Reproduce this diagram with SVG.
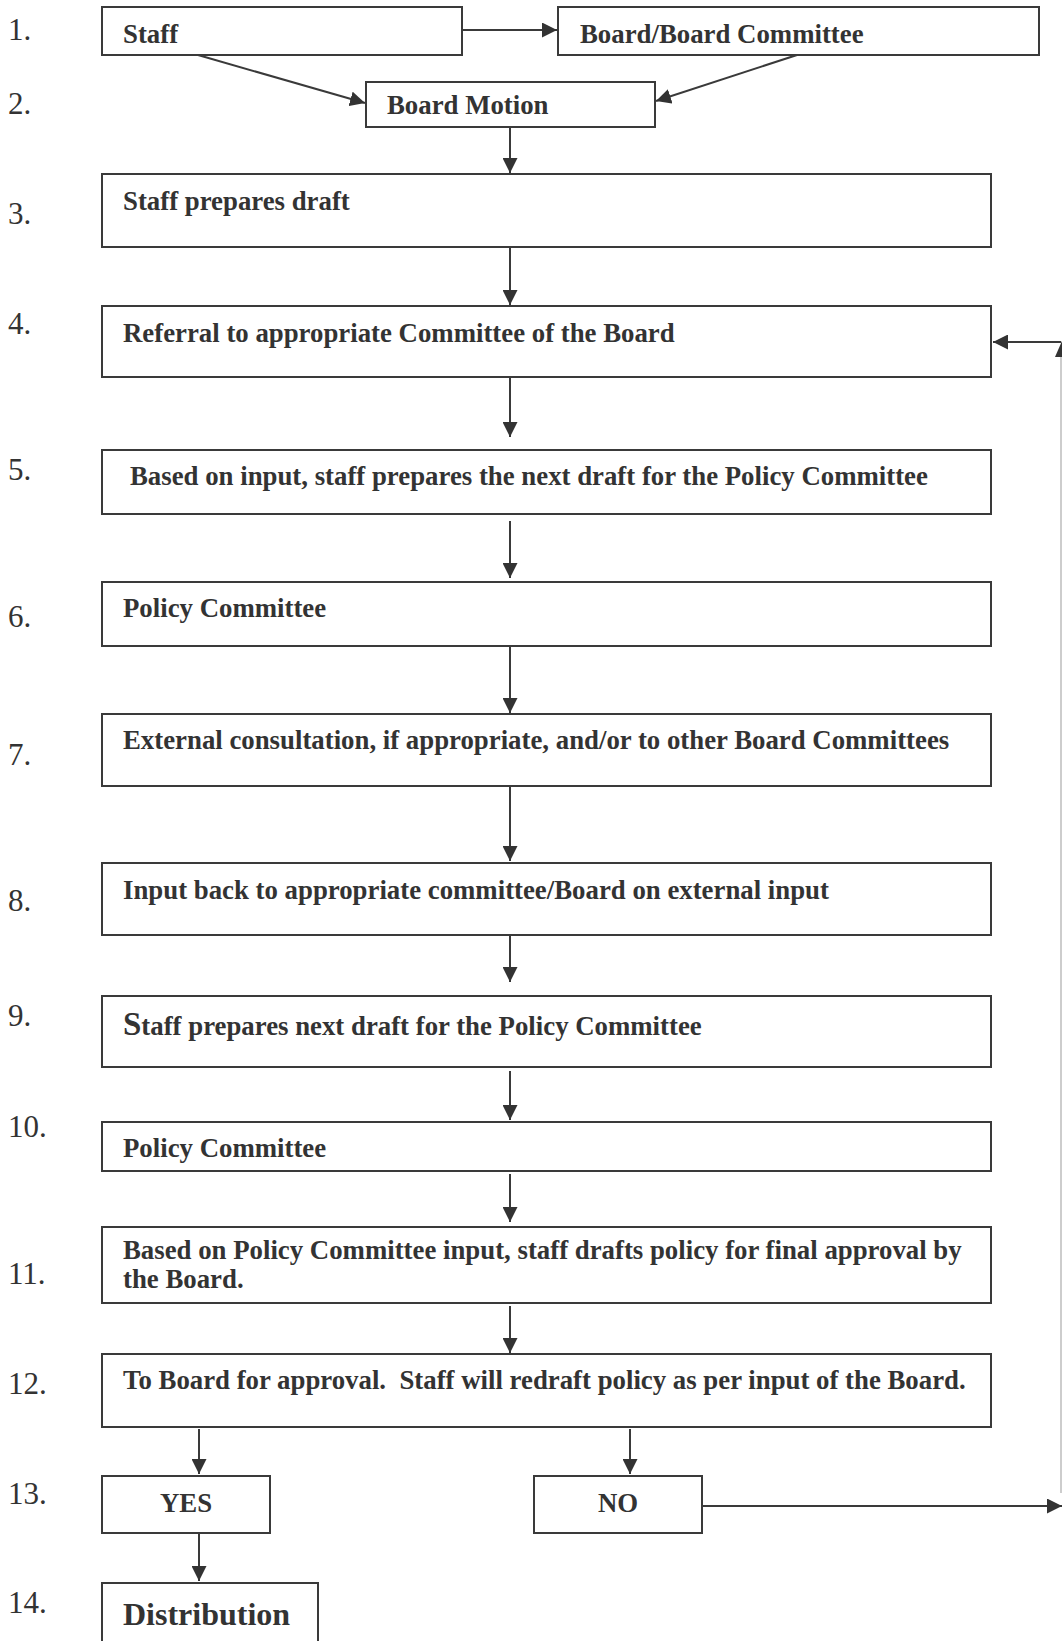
<svg xmlns="http://www.w3.org/2000/svg" width="1062" height="1641" viewBox="0 0 1062 1641">
<style>
.box{fill:#fff;stroke:#3a3a3a;stroke-width:2}
.t{font-family:"Liberation Serif","Times New Roman",serif;font-weight:bold;font-size:26.8px;fill:#333;white-space:pre}
.n{font-family:"Liberation Serif","Times New Roman",serif;font-size:31px;fill:#333}
.c{fill:none;stroke:#3a3a3a;stroke-width:2;marker-end:url(#ah)}
</style>
<defs>
<marker id="ah" markerUnits="userSpaceOnUse" markerWidth="15" markerHeight="15" refX="15" refY="7.5" orient="auto">
<path d="M0,0 L15,7.5 L0,15 z" fill="#333"/>
</marker>
</defs>
<rect width="1062" height="1641" fill="#fff"/>
<g id="numbers">
<text class="n" x="8" y="40">1.</text>
<text class="n" x="8" y="114">2.</text>
<text class="n" x="8" y="224">3.</text>
<text class="n" x="8" y="334">4.</text>
<text class="n" x="8" y="480">5.</text>
<text class="n" x="8" y="627">6.</text>
<text class="n" x="8" y="765">7.</text>
<text class="n" x="8" y="911">8.</text>
<text class="n" x="8" y="1026">9.</text>
<text class="n" x="8" y="1137">10.</text>
<text class="n" x="8" y="1284">11.</text>
<text class="n" x="8" y="1394">12.</text>
<text class="n" x="8" y="1504">13.</text>
<text class="n" x="8" y="1613">14.</text>
</g>
<g id="connectors">
<path class="c" d="M462,30 L557,30"/>
<path class="c" d="M198,55 L365,103"/>
<path class="c" d="M797,55 L656,101"/>
<path class="c" d="M510,127 L510,173"/>
<path class="c" d="M510,247 L510,305"/>
<path class="c" d="M510,377 L510,437"/>
<path class="c" d="M510,521 L510,578"/>
<path class="c" d="M510,646 L510,713"/>
<path class="c" d="M510,786 L510,861"/>
<path class="c" d="M510,935 L510,982"/>
<path class="c" d="M510,1071 L510,1120"/>
<path class="c" d="M510,1174 L510,1222"/>
<path class="c" d="M510,1306 L510,1353"/>
<path class="c" d="M199,1429 L199,1474"/>
<path class="c" d="M630,1429 L630,1474"/>
<path class="c" d="M199,1533 L199,1581"/>
<path class="c" d="M702,1506 L1062,1506"/>
<path d="M1061,1493 L1061,355" fill="none" stroke="#bdbdbd" stroke-width="1.5"/>
<path d="M1062,341 L1055,357 L1069,357 z" fill="#333"/>
<path class="c" d="M1061,342 L993,342"/>
</g>
<g id="n1"><rect class="box" x="102" y="7" width="360" height="48"/><text class="t" x="123" y="43">Staff</text></g>
<g id="n1b"><rect class="box" x="558" y="7" width="481" height="48"/><text class="t" x="580" y="43">Board/Board Committee</text></g>
<g id="n2"><rect class="box" x="366" y="82" width="289" height="45"/><text class="t" x="387" y="114">Board Motion</text></g>
<g id="n3"><rect class="box" x="102" y="174" width="889" height="73"/><text class="t" x="123" y="210">Staff prepares draft</text></g>
<g id="n4"><rect class="box" x="102" y="306" width="889" height="71"/><text class="t" x="123" y="342">Referral to appropriate Committee of the Board</text></g>
<g id="n5"><rect class="box" x="102" y="450" width="889" height="64"/><text class="t" x="130" y="485">Based on input, staff prepares the next draft for the Policy Committee</text></g>
<g id="n6"><rect class="box" x="102" y="582" width="889" height="64"/><text class="t" x="123" y="617">Policy Committee</text></g>
<g id="n7"><rect class="box" x="102" y="714" width="889" height="72"/><text class="t" x="123" y="749">External consultation, if appropriate, and/or to other Board Committees</text></g>
<g id="n8"><rect class="box" x="102" y="863" width="889" height="72"/><text class="t" x="123" y="899">Input back to appropriate committee/Board on external input</text></g>
<g id="n9"><rect class="box" x="102" y="996" width="889" height="71"/><text class="t" x="123" y="1035"><tspan style="font-size:33px">S</tspan>taff prepares next draft for the Policy Committee</text></g>
<g id="n10"><rect class="box" x="102" y="1122" width="889" height="49"/><text class="t" x="123" y="1157">Policy Committee</text></g>
<g id="n11"><rect class="box" x="102" y="1227" width="889" height="76"/><text class="t" x="123" y="1259">Based on Policy Committee input, staff drafts policy for final approval by</text><text class="t" x="123" y="1288">the Board.</text></g>
<g id="n12"><rect class="box" x="102" y="1354" width="889" height="73"/><text class="t" x="123" y="1389">To Board for approval.  Staff will redraft policy as per input of the Board.</text></g>
<g id="n13y"><rect class="box" x="102" y="1476" width="168" height="57"/><text class="t" x="186" y="1512" text-anchor="middle">YES</text></g>
<g id="n13n"><rect class="box" x="534" y="1476" width="168" height="57"/><text class="t" x="618" y="1512" text-anchor="middle">NO</text></g>
<g id="n14"><rect class="box" x="102" y="1583" width="216" height="80"/><text class="t" x="123" y="1625" style="font-size:32px">Distribution</text></g>
</svg>
